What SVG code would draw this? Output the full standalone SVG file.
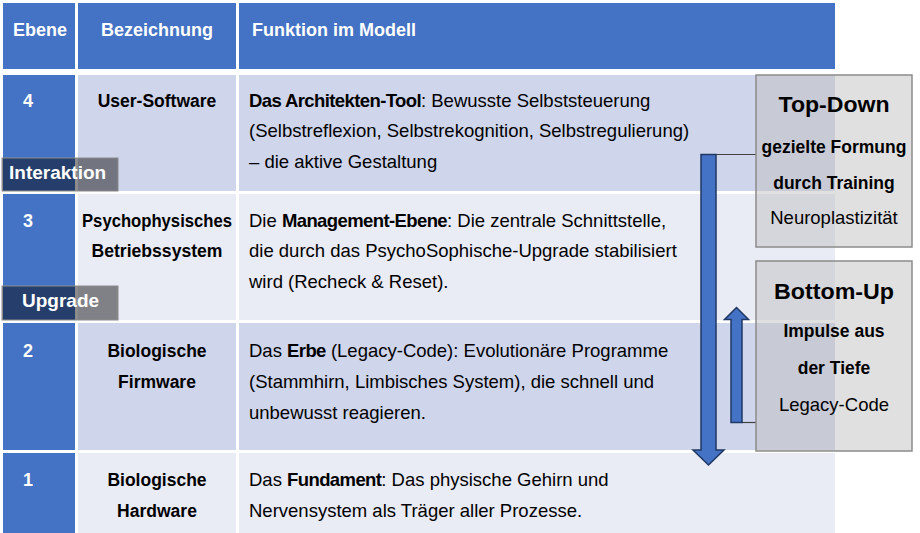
<svg xmlns="http://www.w3.org/2000/svg" width="920" height="533" viewBox="0 0 920 533">
<style>
text{font-family:"Liberation Sans",Arial,sans-serif;}
.hd{fill:#4472C4;}
.c1{fill:#4472C4;}
.dk{fill:#CFD5EA;}
.lt{fill:#E9EBF5;}
.ht{font-size:18px;font-weight:bold;fill:#fff;}
.num{font-size:18px;font-weight:bold;fill:#fff;}
.lbl{font-size:17.5px;font-weight:bold;fill:#000;text-anchor:middle;}
.body{font-size:18.5px;fill:#000;}
.b{font-weight:bold;letter-spacing:-0.6px;}
.tag{fill:#000;fill-opacity:0.45;stroke:#8C8C8C;stroke-width:1;}
.tagt{font-size:19px;font-weight:bold;fill:#fff;}
.box{fill:#C1C1C1;fill-opacity:0.5;stroke:#8C8C8C;stroke-width:1.5;}
.bt1{font-size:22.5px;font-weight:bold;text-anchor:middle;fill:#000;}
.bt2{font-size:17.5px;font-weight:bold;text-anchor:middle;fill:#000;}
.bt3{font-size:18.5px;text-anchor:middle;fill:#000;}
.arr{fill:#4472C4;stroke:#1F3864;stroke-width:1.5;stroke-linejoin:miter;}
.con{stroke:#404040;stroke-width:1.2;fill:none;}
</style>
<rect width="920" height="533" fill="#fff"/>
<g id="header">
<rect class="hd" x="3" y="3" width="72" height="66"/>
<rect class="hd" x="78" y="3" width="158" height="66"/>
<rect class="hd" x="239" y="3" width="596" height="66"/>
<text class="ht" x="13" y="36">Ebene</text>
<text class="ht" x="157" y="36" text-anchor="middle">Bezeichnung</text>
<text class="ht" x="252" y="36">Funktion im Modell</text>
</g>
<g id="row4">
<rect class="c1" x="3" y="75" width="72" height="116"/>
<rect class="dk" x="78" y="75" width="158" height="116"/>
<rect class="dk" x="239" y="75" width="596" height="116"/>
<text class="num" x="23" y="107">4</text>
<text class="lbl" x="157" y="107">User-Software</text>
<text class="body" x="249" y="107"><tspan class="b">Das Architekten-Tool</tspan>: Bewusste Selbststeuerung</text>
<text class="body" x="249" y="137">(Selbstreflexion, Selbstrekognition, Selbstregulierung)</text>
<text class="body" x="249" y="168">– die aktive Gestaltung</text>
</g>
<g id="row3">
<rect class="c1" x="3" y="194" width="72" height="126"/>
<rect class="lt" x="78" y="194" width="158" height="126"/>
<rect class="lt" x="239" y="194" width="596" height="126"/>
<text class="num" x="23" y="227">3</text>
<text class="lbl" x="157" y="227" textLength="150" lengthAdjust="spacingAndGlyphs">Psychophysisches</text>
<text class="lbl" x="157" y="257" textLength="131" lengthAdjust="spacingAndGlyphs">Betriebssystem</text>
<text class="body" x="249" y="227">Die <tspan class="b">Management-Ebene</tspan>: Die zentrale Schnittstelle,</text>
<text class="body" x="249" y="257">die durch das PsychoSophische-Upgrade stabilisiert</text>
<text class="body" x="249" y="288">wird (Recheck &amp; Reset).</text>
</g>
<g id="row2">
<rect class="c1" x="3" y="323" width="72" height="127"/>
<rect class="dk" x="78" y="323" width="158" height="127"/>
<rect class="dk" x="239" y="323" width="596" height="127"/>
<text class="num" x="23" y="357">2</text>
<text class="lbl" x="157" y="357">Biologische</text>
<text class="lbl" x="157" y="388">Firmware</text>
<text class="body" x="249" y="357">Das <tspan class="b">Erbe</tspan> (Legacy-Code): Evolutionäre Programme</text>
<text class="body" x="249" y="388">(Stammhirn, Limbisches System), die schnell und</text>
<text class="body" x="249" y="419">unbewusst reagieren.</text>
</g>
<g id="row1">
<rect class="c1" x="3" y="453" width="72" height="80"/>
<rect class="lt" x="78" y="453" width="158" height="80"/>
<rect class="lt" x="239" y="453" width="596" height="80"/>
<text class="num" x="23" y="486">1</text>
<text class="lbl" x="157" y="486">Biologische</text>
<text class="lbl" x="157" y="517">Hardware</text>
<text class="body" x="249" y="486">Das <tspan class="b">Fundament</tspan>: Das physische Gehirn und</text>
<text class="body" x="249" y="517">Nervensystem als Träger aller Prozesse.</text>
</g>
<g id="tag-interaktion">
<rect class="tag" x="2" y="158" width="116" height="33"/>
<text class="tagt" x="9" y="179">Interaktion</text>
</g>
<g id="tag-upgrade">
<rect class="tag" x="2" y="286" width="116" height="34"/>
<text class="tagt" x="22" y="307">Upgrade</text>
</g>
<g id="connectors">
<path class="con" d="M716 154.5 H756"/>
<path class="con" d="M742 422.5 H756"/>
<path class="arr" d="M701 154.5 H716 V450 H724 L708.5 465 L693 450 H701 Z"/>
<path class="arr" d="M731 422.5 V319.5 H724.5 L736.5 307.5 L748.5 319.5 H742 V422.5 Z"/>
</g>
<g id="top-down">
<rect class="box" x="756" y="75" width="156" height="172"/>
<text class="bt1" x="834" y="112" textLength="111" lengthAdjust="spacingAndGlyphs">Top-Down</text>
<text class="bt2" x="834" y="153">gezielte Formung</text>
<text class="bt2" x="834" y="189">durch Training</text>
<text class="bt3" x="834" y="224">Neuroplastizität</text>
</g>
<g id="bottom-up">
<rect class="box" x="756" y="261" width="156" height="190"/>
<text class="bt1" x="834" y="299" textLength="120" lengthAdjust="spacingAndGlyphs">Bottom-Up</text>
<text class="bt2" x="834" y="337">Impulse aus</text>
<text class="bt2" x="834" y="374">der Tiefe</text>
<text class="bt3" x="834" y="411">Legacy-Code</text>
</g>
</svg>
